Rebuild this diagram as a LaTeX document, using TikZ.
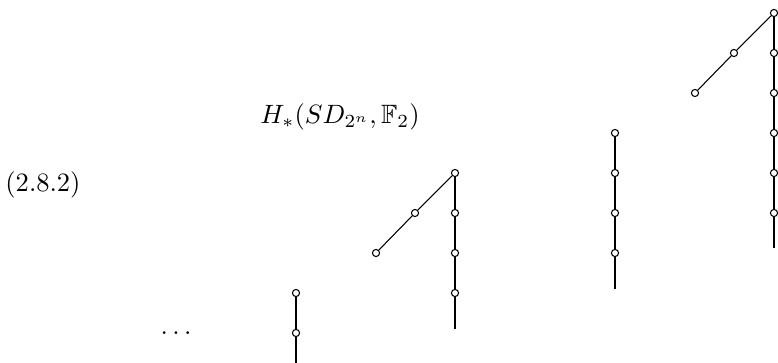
\documentclass[tikz,border=0pt]{standalone}
\usepackage{amssymb}
\begin{document}
\begin{tikzpicture}[x=0.3774pt,y=-0.3774pt,
  dotnode/.style={circle,draw,fill=white,inner sep=0pt,minimum size=2.7pt,line width=0.4pt},
  tower/.style={line width=0.8pt},
  diag/.style={line width=0.4pt},
  lbl/.style={inner sep=0pt}]
\useasboundingbox (0,0) rectangle (778,363);
% labels
\node[lbl] (eq) at (43,185) {$(2.8.2)$};
\node[lbl] (title) at (340,117) {$H_*(SD_{2^n},\mathbb{F}_2)$};
\node[lbl,anchor=base] (dots) at (176,335) {$\ldots$};
% group 1
\node[dotnode] (a0) at (296,293) {};
\node[dotnode] (a1) at (296,333) {};
\coordinate (aend) at (296,363);
\draw[tower] (a0) -- (a1);
\draw[tower] (a1) -- (aend);
% group 2
\node[dotnode] (b3) at (455,173) {};
\node[dotnode] (b2) at (455,213) {};
\node[dotnode] (b1) at (455,253) {};
\node[dotnode] (b0) at (455,293) {};
\coordinate (bend) at (455,329);
\node[dotnode] (bd1) at (415,213) {};
\node[dotnode] (bd2) at (376,253) {};
\draw[tower] (b3) -- (b2);
\draw[tower] (b2) -- (b1);
\draw[tower] (b1) -- (b0);
\draw[tower] (b0) -- (bend);
\draw[diag] (b3) -- (bd1);
\draw[diag] (bd1) -- (bd2);
% group 3
\node[dotnode] (c3) at (615,133) {};
\node[dotnode] (c2) at (615,173) {};
\node[dotnode] (c1) at (615,213) {};
\node[dotnode] (c0) at (615,253) {};
\coordinate (cend) at (615,289);
\draw[tower] (c3) -- (c2);
\draw[tower] (c2) -- (c1);
\draw[tower] (c1) -- (c0);
\draw[tower] (c0) -- (cend);
% group 4
\node[dotnode] (d5) at (774,13) {};
\node[dotnode] (d4) at (774,53) {};
\node[dotnode] (d3) at (774,93) {};
\node[dotnode] (d2) at (774,133) {};
\node[dotnode] (d1) at (774,173) {};
\node[dotnode] (d0) at (774,213) {};
\coordinate (dend) at (774,248);
\node[dotnode] (dd1) at (734,53) {};
\node[dotnode] (dd2) at (695,93) {};
\draw[tower] (d5) -- (d4);
\draw[tower] (d4) -- (d3);
\draw[tower] (d3) -- (d2);
\draw[tower] (d2) -- (d1);
\draw[tower] (d1) -- (d0);
\draw[tower] (d0) -- (dend);
\draw[diag] (d5) -- (dd1);
\draw[diag] (dd1) -- (dd2);
\end{tikzpicture}
\end{document}
